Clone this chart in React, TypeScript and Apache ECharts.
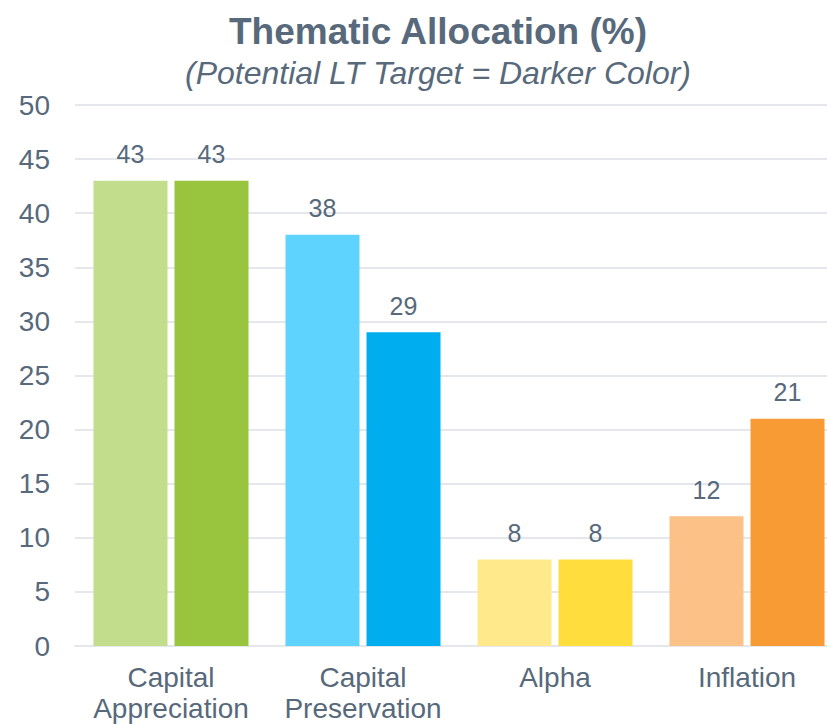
import React, { useEffect, useRef } from "react";
import * as echarts from "echarts";

const categories = ["Capital\nAppreciation", "Capital\nPreservation", "Alpha", "Inflation"];
const currentValues = [43, 38, 8, 12];
const targetValues = [43, 29, 8, 21];
const lightColors = ["#c2dd8c", "#5dd3fe", "#ffe98a", "#fbc186"];
const darkColors = ["#98c43e", "#00aeef", "#fedd3c", "#f99b35"];
const yTicks = { min: 0, max: 50, interval: 5 };

const TEXT = "#57697b";
const GRID = "#e4e8ec";
const FONT = "'Liberation Sans', Arial, sans-serif";

export default function App() {
  const ref = useRef<HTMLDivElement>(null);
  useEffect(() => {
    document.body.style.margin = "0";
    if (!ref.current) return;
    const chart = echarts.init(ref.current, undefined, { renderer: "svg" });
    const label = {
      show: true,
      position: "top",
      distance: 14,
      fontSize: 25,
      color: TEXT,
      fontFamily: FONT,
    };
    chart.setOption({
      animation: false,
      textStyle: { fontFamily: FONT },
      graphic: [
        {
          type: "text",
          x: 438,
          y: 31,
          style: {
            text: "Thematic Allocation (%)",
            fill: TEXT,
            font: `bold 37px ${FONT}`,
            align: "center",
            verticalAlign: "middle",
          },
        },
        {
          type: "text",
          x: 438,
          y: 73,
          style: {
            text: "(Potential LT Target = Darker Color)",
            fill: TEXT,
            font: `italic 32px ${FONT}`,
            align: "center",
            verticalAlign: "middle",
          },
        },
      ],
      grid: { left: 75, top: 105, width: 768, height: 541 },
      xAxis: {
        type: "category",
        data: categories,
        axisTick: { show: false },
        axisLine: { lineStyle: { color: GRID, width: 2 } },
        axisLabel: {
          fontSize: 28,
          color: TEXT,
          margin: 16,
          lineHeight: 31,
          fontFamily: FONT,
          interval: 0,
        },
      },
      yAxis: {
        type: "value",
        min: yTicks.min,
        max: yTicks.max,
        interval: yTicks.interval,
        axisLine: { show: false },
        axisTick: { show: false },
        axisLabel: { fontSize: 28, color: TEXT, margin: 25, fontFamily: FONT },
        splitLine: { lineStyle: { color: GRID, width: 2 } },
      },
      series: [
        {
          name: "Current",
          type: "bar",
          barWidth: 74,
          barGap: "9.5%",
          data: currentValues.map((v, i) => ({ value: v, itemStyle: { color: lightColors[i] } })),
          label,
        },
        {
          name: "Potential LT Target",
          type: "bar",
          barWidth: 74,
          data: targetValues.map((v, i) => ({ value: v, itemStyle: { color: darkColors[i] } })),
          label,
        },
      ],
    });
    return () => chart.dispose();
  }, []);
  return (
    <div style={{ width: 827, height: 725, overflow: "hidden", position: "relative" }}>
      <div ref={ref} style={{ width: 860, height: 725 }} />
    </div>
  );
}
